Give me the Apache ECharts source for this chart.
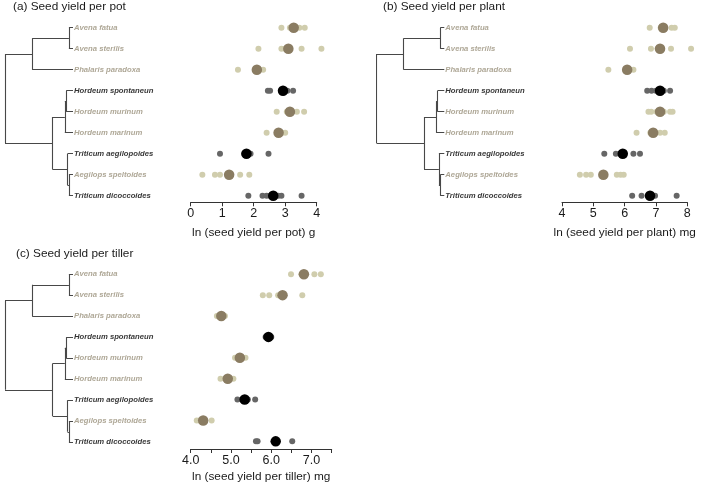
<!DOCTYPE html>
<html>
<head>
<meta charset="utf-8">
<script src="https://cdn.jsdelivr.net/npm/echarts@6/dist/echarts.min.js"></script>
<style>html,body{margin:0;padding:0;background:#fff}#c{width:709px;height:484px}</style>
</head>
<body>
<div id="c"></div>
<script>
// ---------- DATA ----------
var species = ['Avena fatua','Avena sterilis','Phalaris paradoxa','Hordeum spontaneun','Hordeum murinum','Hordeum marinum','Triticum aegilopoides','Aegilops speltoides','Triticum dicoccoides'];
var highlighted = [false,false,false,true,false,false,true,false,true];

var potReps = [[2.88,3.15,3.22,3.45,3.62],[2.15,2.88,3.0,3.52,4.15],[1.5,2.3],[2.45,2.52,3.07,3.25],[2.73,3.05,3.22,3.37,3.6],[2.41,2.9,3.0],[0.93,1.7,1.9,2.47],[0.37,0.77,0.93,1.57,1.86],[1.83,2.28,2.41,2.52,2.78,2.88,3.52]];
var potMean = [3.27,3.1,2.1,2.93,3.15,2.79,1.77,1.22,2.62];

var plantReps = [[6.8,7.15,7.5,7.6],[6.17,6.84,7.05,7.48,8.12],[5.48,6.15,6.28],[6.72,6.86,7.0,7.25,7.45],[6.76,6.85,7.02,7.25,7.45,7.53],[6.38,6.82,7.13,7.28],[5.35,5.72,5.85,6.28,6.49],[4.57,4.77,4.92,5.75,5.87,5.97],[6.24,6.54,6.75,6.97,7.66]];
var plantMean = [7.23,7.13,6.08,7.13,7.13,6.91,5.94,5.32,6.81];

var tillerReps = [[6.49,6.75,7.07,7.23],[5.79,5.95,6.17,6.77],[4.65,4.72,4.85],[5.86,5.9,5.97,6.0],[5.1,5.18,5.3,5.36],[4.74,4.85,5.06],[5.16,5.27,5.42,5.6],[4.15,4.22,4.52],[5.62,5.66,6.52]];
var tillerMean = [6.81,6.28,4.76,5.93,5.22,4.92,5.34,4.31,6.11];

// Tree: internal nodes (relative depth 0 = root, tips at 1), children are node ids or species indices
var treeNodes = {
  root: {depth: 0.00, children: ['c1','c2']},
  c1:   {depth: 0.40, children: ['avena', 2]},
  avena:{depth: 0.94, children: [0, 1]},
  c2:   {depth: 0.70, children: ['hord', 'trit']},
  hord: {depth: 0.88, children: ['hsm', 5]},
  hsm:  {depth: 0.90, children: [3, 4]},
  trit: {depth: 0.92, children: [6, 'aetd']},
  aetd: {depth: 0.94, children: [7, 8]}
};

var panelTitles = ['(a) Seed yield per pot','(b) Seed yield per plant','(c) Seed yield per tiller'];
var axisNames = ['ln (seed yield per pot) g','ln (seed yield per plant) mg','ln (seed yield per tiller) mg'];
var axisRanges = [[0,4,1],[4,8,1],[4,7.5,0.5]];

// ---------- LAYOUT ----------
var FONT = '"Liberation Sans", Arial, sans-serif';
var panels = [
  {treeLeft: 5,     treeW: 68,   dotLeft: 190.7, dotW: 126,   row0: 27.7,  step: 21, axisY: 202.3, titleX: 13,  titleY: 1,   nameGap: 24, reps: potReps, mean: potMean},
  {treeLeft: 376.7, treeW: 67.6, dotLeft: 562,   dotW: 125.3, row0: 27.7,  step: 21, axisY: 202.3, titleX: 383, titleY: 1,   nameGap: 24, reps: plantReps, mean: plantMean},
  {treeLeft: 5,     treeW: 68,   dotLeft: 190.7, dotW: 141,   row0: 274.3, step: 21, axisY: 450,   titleX: 16,  titleY: 247.5, nameGap: 22, reps: tillerReps, mean: tillerMean}
];

var colLight = '#d0cdad', colMeanLight = '#8a7c62', colDark = '#666666', colMeanDark = '#000000';
var labelGray = '#9a917c';

function nodeY(id) {
  if (typeof id === 'number') return id;
  var ch = treeNodes[id].children;
  return (nodeY(ch[0]) + nodeY(ch[ch.length - 1])) / 2;
}
function nodeDepth(id) { return typeof id === 'number' ? 1 : treeNodes[id].depth; }
function treeSegments() {
  var segs = [];
  Object.keys(treeNodes).forEach(function (id) {
    var n = treeNodes[id];
    var ys = n.children.map(nodeY);
    segs.push({coords: [[n.depth, Math.min.apply(null, ys)], [n.depth, Math.max.apply(null, ys)]]});
    n.children.forEach(function (c) {
      segs.push({coords: [[n.depth, nodeY(c)], [nodeDepth(c), nodeY(c)]]});
    });
  });
  return segs;
}

var option = {
  animation: false,
  backgroundColor: '#ffffff',
  textStyle: {fontFamily: FONT},
  title: [], grid: [], xAxis: [], yAxis: [], series: []
};

panels.forEach(function (p, k) {
  var top = p.row0 - p.step / 2;
  var height = p.axisY - top;
  var yMax = (p.axisY - p.row0) / p.step;
  var gTree = 2 * k, gDot = 2 * k + 1;

  option.title.push({
    text: panelTitles[k], left: p.titleX, top: p.titleY, padding: 0,
    textStyle: {fontFamily: FONT, fontSize: 11.8, fontWeight: 'normal', color: '#1a1a1a'}
  });

  option.grid.push({left: p.treeLeft, top: top, width: p.treeW, height: height});
  option.grid.push({left: p.dotLeft, top: top, width: p.dotW, height: height});

  option.xAxis.push({gridIndex: gTree, type: 'value', min: 0, max: 1, show: false});
  option.yAxis.push({gridIndex: gTree, type: 'value', min: -0.5, max: yMax, inverse: true, show: false});

  var r = axisRanges[k];
  option.xAxis.push({
    gridIndex: gDot, type: 'value', min: r[0], max: r[1], interval: r[2], position: 'bottom',
    name: axisNames[k], nameLocation: 'middle', nameGap: p.nameGap,
    nameTextStyle: {fontFamily: FONT, fontSize: 11.8, color: '#1a1a1a'},
    axisLine: {show: true, onZero: false, lineStyle: {color: '#333', width: 1}},
    axisTick: {show: true, length: 4, lineStyle: {color: '#333', width: 1}},
    axisLabel: {
      margin: 5, fontFamily: FONT, fontSize: 12.5, color: '#1a1a1a', showMinLabel: true, showMaxLabel: true,
      formatter: function (v) {
        if (k === 2) return (Math.abs(v - Math.round(v)) < 1e-6) ? v.toFixed(1) : '';
        return String(v);
      }
    },
    splitLine: {show: false}
  });
  option.yAxis.push({gridIndex: gDot, type: 'value', min: -0.5, max: yMax, inverse: true, show: false});

  // tree
  option.series.push({
    type: 'lines', coordinateSystem: 'cartesian2d', xAxisIndex: gTree, yAxisIndex: gTree,
    polyline: false, silent: true,
    lineStyle: {color: '#484848', width: 1.1, opacity: 1},
    data: treeSegments()
  });
  // species labels
  option.series.push({
    type: 'scatter', xAxisIndex: gTree, yAxisIndex: gTree, symbolSize: 0, clip: false, silent: true,
    data: species.map(function (s, i) {
      return {
        value: [1, i],
        label: {
          show: true, position: 'right', distance: 1, formatter: s,
          fontFamily: FONT, fontSize: 7.7, fontStyle: 'italic', fontWeight: 'bold',
          color: highlighted[i] ? '#000000' : labelGray
        }
      };
    })
  });
  // replicate dots
  var repData = [];
  p.reps.forEach(function (arr, i) {
    arr.forEach(function (v) {
      repData.push({value: [v, i], itemStyle: {color: highlighted[i] ? colDark : colLight, opacity: 1}});
    });
  });
  option.series.push({
    type: 'scatter', xAxisIndex: gDot, yAxisIndex: gDot, symbolSize: 6, clip: false, silent: true,
    itemStyle: {opacity: 1},
    data: repData
  });
  // mean dots
  option.series.push({
    type: 'scatter', xAxisIndex: gDot, yAxisIndex: gDot, symbolSize: 10.5, clip: false, silent: true, z: 3,
    itemStyle: {opacity: 1},
    data: p.mean.map(function (v, i) {
      return {value: [v, i], itemStyle: {color: highlighted[i] ? colMeanDark : colMeanLight, opacity: 1}};
    })
  });
});

var chart = echarts.init(document.getElementById('c'), null, {renderer: 'canvas'});
chart.setOption(option);
</script>
</body>
</html>
